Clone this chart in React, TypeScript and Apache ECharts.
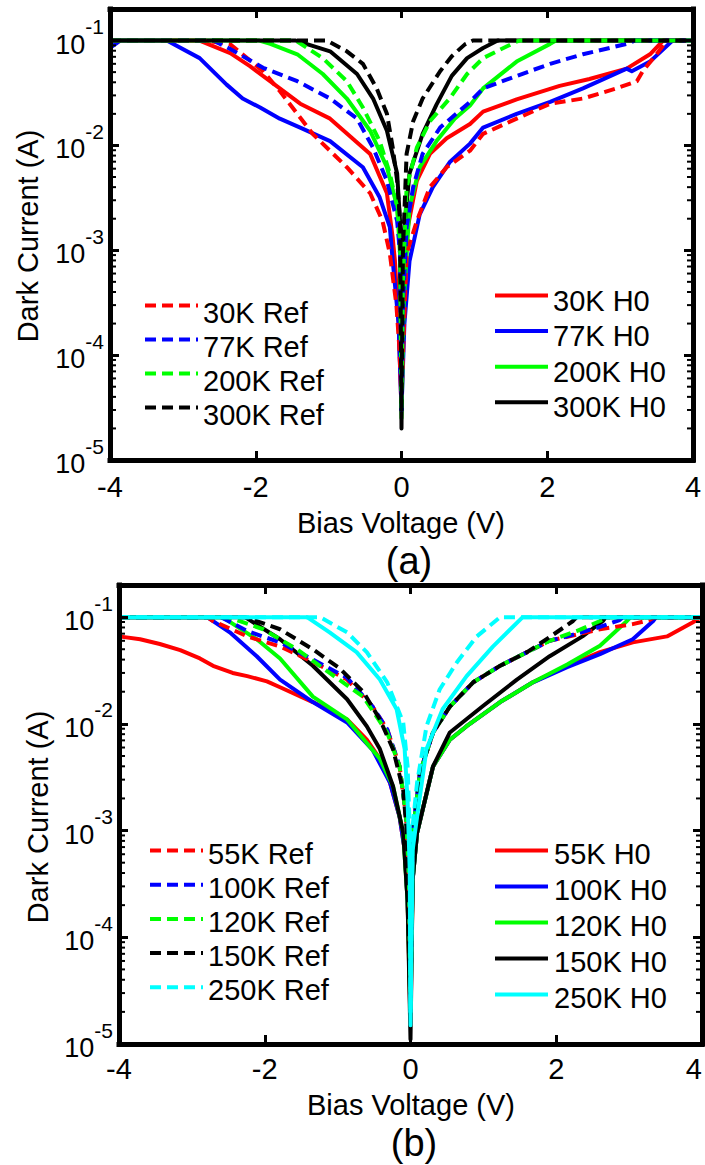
import React, { useEffect, useRef } from "react";
import * as echarts from "echarts";

// ---------- Panel (a) data: bias voltage (V) and dark current (A) ----------
const aV_30K_H0 = [-4, -2.77, -2.35, -2.08, -1.67, -1.39, -0.98, -0.43, -0.2, -0.12, -0.09, -0.04, 0, 0.03, 0.07, 0.21, 0.39, 0.62, 0.94, 1.12, 1.58, 2.17, 2.58, 3.09, 3.41, 3.59, 4];
const aI_30K_H0 = [0.1, 0.1, 0.076, 0.057, 0.035, 0.025, 0.018, 0.0083, 0.0035, 0.0013, 0.00079, 0.0002, 0.00003, 0.0003, 0.00145, 0.0046, 0.0083, 0.0117, 0.016, 0.021, 0.0275, 0.037, 0.043, 0.054, 0.074, 0.1, 0.1];

const aV_77K_H0 = [-4, -3.86, -3.22, -2.77, -2.4, -2.18, -1.94, -1.67, -1.39, -0.98, -0.53, -0.3, -0.16, -0.12, -0.04, 0, 0.04, 0.11, 0.25, 0.43, 0.66, 0.94, 1.12, 1.58, 2.04, 2.49, 3.09, 3.16, 3.41, 3.72, 4];
const aI_77K_H0 = [0.085, 0.1, 0.1, 0.068, 0.038, 0.028, 0.023, 0.018, 0.0148, 0.011, 0.0062, 0.0032, 0.00166, 0.00079, 0.0002, 0.00003, 0.0002, 0.00079, 0.0022, 0.004, 0.0069, 0.0104, 0.0148, 0.02, 0.026, 0.035, 0.054, 0.051, 0.063, 0.1, 0.1];

const aV_200K_H0 = [-4, -1.95, -1.8, -1.43, -1.08, -0.75, -0.43, -0.2, -0.06, -0.02, 0, 0.03, 0.11, 0.25, 0.48, 0.73, 0.94, 1.12, 1.58, 2.04, 2.12, 4];
const aI_200K_H0 = [0.1, 0.1, 0.093, 0.074, 0.048, 0.028, 0.0138, 0.0062, 0.0026, 0.00093, 0.000025, 0.0003, 0.0026, 0.0062, 0.011, 0.018, 0.024, 0.035, 0.063, 0.093, 0.1, 0.1];

const aV_300K_H0 = [-4, -1.45, -0.98, -0.61, -0.39, -0.2, -0.06, -0.02, 0, 0.01, 0.03, 0.11, 0.29, 0.48, 0.69, 0.9, 1.12, 1.32, 4];
const aI_300K_H0 = [0.1, 0.1, 0.079, 0.048, 0.028, 0.0138, 0.0054, 0.0019, 0.00002, 0.0002, 0.00145, 0.0054, 0.0129, 0.0245, 0.046, 0.068, 0.085, 0.1, 0.1];

const aV_30K_Ref = [-4, -2.7, -2.35, -1.9, -1.67, -1.22, -0.75, -0.43, -0.26, -0.16, -0.07, -0.03, 0, 0.03, 0.07, 0.21, 0.39, 0.62, 0.94, 1.12, 1.58, 2.04, 2.49, 2.95, 3.23, 3.31, 3.5, 3.64, 4];
const aI_30K_Ref = [0.1, 0.1, 0.092, 0.051, 0.033, 0.0129, 0.0062, 0.0035, 0.0019, 0.00093, 0.0003, 0.00012, 0.00004, 0.00015, 0.00093, 0.0019, 0.004, 0.0062, 0.0089, 0.0129, 0.018, 0.025, 0.028, 0.035, 0.041, 0.051, 0.074, 0.1, 0.1];

const aV_77K_Ref = [-4, -2.58, -2.35, -1.9, -1.43, -0.98, -0.61, -0.39, -0.2, -0.06, -0.02, 0, 0.02, 0.07, 0.16, 0.29, 0.53, 0.94, 1.12, 1.58, 2.04, 2.49, 3.09, 3.2, 4];
const aI_77K_Ref = [0.1, 0.1, 0.083, 0.055, 0.041, 0.028, 0.018, 0.0095, 0.0046, 0.0019, 0.00093, 0.00003, 0.0003, 0.00166, 0.004, 0.0083, 0.0148, 0.026, 0.035, 0.046, 0.06, 0.074, 0.093, 0.1, 0.1];

const aV_200K_Ref = [-4, -1.55, -1.43, -1.08, -0.75, -0.53, -0.3, -0.16, -0.06, -0.02, 0, 0.02, 0.07, 0.21, 0.39, 0.66, 0.9, 1.12, 1.58, 1.62, 4];
const aI_200K_Ref = [0.1, 0.1, 0.098, 0.068, 0.041, 0.023, 0.011, 0.0054, 0.0026, 0.00123, 0.00003, 0.0005, 0.004, 0.0095, 0.017, 0.028, 0.048, 0.068, 0.098, 0.1, 0.1];

const aV_300K_Ref = [-4, -1.02, -0.75, -0.53, -0.34, -0.2, -0.12, -0.06, -0.02, 0, 0.02, 0.07, 0.16, 0.29, 0.53, 0.69, 0.87, 0.98, 4];
const aI_300K_Ref = [0.1, 0.1, 0.079, 0.06, 0.035, 0.02, 0.0095, 0.0046, 0.0019, 0.00003, 0.001, 0.0083, 0.017, 0.028, 0.051, 0.071, 0.092, 0.1, 0.1];

// ---------- Panel (b) data ----------
const bV_55K_H0 = [-4, -3.71, -3.44, -3.16, -2.89, -2.71, -2.44, -2.24, -1.97, -1.79, -1.34, -0.87, -0.6, -0.42, -0.28, -0.15, -0.08, -0.04, 0, 0.03, 0.09, 0.31, 0.54, 0.77, 1.23, 1.68, 2.15, 2.6, 3.05, 3.52, 3.87, 3.97, 4];
const bI_55K_H0 = [0.066, 0.062, 0.056, 0.049, 0.041, 0.035, 0.03, 0.028, 0.025, 0.022, 0.016, 0.011, 0.0071, 0.0047, 0.0028, 0.00135, 0.00066, 0.00022, 0.000015, 0.00035, 0.00095, 0.004, 0.0071, 0.0095, 0.016, 0.0245, 0.035, 0.047, 0.058, 0.066, 0.089, 0.098, 0.1];

const bV_100K_H0 = [-4, -2.79, -2.48, -2.11, -1.79, -1.34, -0.87, -0.52, -0.28, -0.15, -0.08, -0.04, 0, 0.03, 0.09, 0.31, 0.54, 0.77, 1.23, 1.68, 2.15, 2.6, 3.05, 3.33, 3.37, 4];
const bI_100K_H0 = [0.1, 0.1, 0.072, 0.043, 0.026, 0.016, 0.0103, 0.0057, 0.0028, 0.00135, 0.00066, 0.00022, 0.00003, 0.00035, 0.00095, 0.004, 0.0071, 0.0095, 0.016, 0.0245, 0.034, 0.045, 0.062, 0.092, 0.1, 0.1];

const bV_120K_H0 = [-4, -2.58, -2.11, -1.79, -1.34, -0.87, -0.42, -0.24, -0.1, -0.04, 0, 0.03, 0.09, 0.31, 0.54, 0.77, 1.23, 1.68, 2.15, 2.6, 2.97, 3.02, 4];
const bI_120K_H0 = [0.1, 0.1, 0.062, 0.041, 0.018, 0.011, 0.0047, 0.0026, 0.00095, 0.00022, 0.00002, 0.00035, 0.00095, 0.004, 0.0071, 0.0095, 0.016, 0.0245, 0.036, 0.054, 0.092, 0.1, 0.1];

const bV_150K_H0 = [-4, -2.27, -1.79, -1.34, -0.87, -0.6, -0.42, -0.24, -0.1, -0.04, 0, 0.03, 0.09, 0.31, 0.54, 0.99, 1.46, 1.91, 2.36, 2.64, 2.68, 4];
const bI_150K_H0 = [0.1, 0.1, 0.062, 0.035, 0.017, 0.0095, 0.0058, 0.0026, 0.00095, 0.00022, 0.000011, 0.00035, 0.00095, 0.004, 0.0083, 0.0146, 0.026, 0.043, 0.066, 0.092, 0.1, 0.1];

const bV_250K_H0 = [-4, -1.42, -1.11, -0.74, -0.42, -0.19, -0.08, -0.04, -0.01, 0, 0.03, 0.09, 0.22, 0.44, 0.77, 1.13, 1.54, 4];
const bI_250K_H0 = [0.1, 0.1, 0.072, 0.047, 0.026, 0.0137, 0.0058, 0.0019, 0.00043, 0.000015, 0.00066, 0.00135, 0.0058, 0.0137, 0.028, 0.053, 0.1, 0.1];

const bV_55K_Ref = [-4, -2.79, -2.71, -2.24, -1.79, -1.34, -0.87, -0.52, -0.32, -0.15, -0.06, -0.02, 0, 0.03, 0.13, 0.31, 0.54, 0.86, 1.23, 1.6, 1.91, 2.6, 3.05, 3.28, 3.35, 4];
const bI_55K_Ref = [0.1, 0.1, 0.092, 0.066, 0.053, 0.038, 0.026, 0.0145, 0.0089, 0.004, 0.00135, 0.00035, 0.00003, 0.00095, 0.0035, 0.0083, 0.0145, 0.0245, 0.035, 0.047, 0.06, 0.077, 0.086, 0.094, 0.1, 0.1];

const bV_100K_Ref = [-4, -2.6, -2.24, -1.79, -1.34, -0.87, -0.52, -0.32, -0.15, -0.06, -0.02, 0, 0.03, 0.13, 0.31, 0.54, 0.86, 1.23, 1.6, 1.91, 2.15, 2.6, 2.87, 2.92, 4];
const bI_100K_Ref = [0.1, 0.1, 0.074, 0.058, 0.04, 0.027, 0.0145, 0.0089, 0.004, 0.00135, 0.00035, 0.00003, 0.00095, 0.0035, 0.0083, 0.0145, 0.0245, 0.035, 0.047, 0.06, 0.066, 0.081, 0.094, 0.1, 0.1];

const bV_120K_Ref = [-4, -2.5, -2.02, -1.56, -1.11, -0.65, -0.32, -0.15, -0.06, -0.02, 0, 0.03, 0.13, 0.31, 0.54, 0.86, 1.23, 1.6, 1.91, 2.28, 2.6, 2.68, 4];
const bI_120K_Ref = [0.1, 0.1, 0.077, 0.05, 0.03, 0.018, 0.0083, 0.004, 0.00135, 0.00035, 0.00002, 0.00095, 0.0035, 0.0083, 0.0145, 0.0245, 0.035, 0.047, 0.06, 0.074, 0.092, 0.1, 0.1];

const bV_150K_Ref = [-4, -2.27, -1.79, -1.34, -0.97, -0.65, -0.42, -0.24, -0.1, -0.05, 0, 0.03, 0.13, 0.31, 0.54, 0.86, 1.23, 1.6, 1.91, 2.23, 2.28, 4];
const bI_150K_Ref = [0.1, 0.1, 0.077, 0.05, 0.033, 0.02, 0.011, 0.0058, 0.0024, 0.00095, 0.00002, 0.00095, 0.0035, 0.0083, 0.0145, 0.0245, 0.035, 0.047, 0.065, 0.092, 0.1, 0.1];

const bV_250K_Ref = [-4, -1.24, -0.87, -0.6, -0.32, -0.1, -0.04, -0.01, 0, 0.02, 0.09, 0.22, 0.4, 0.64, 0.91, 1.23, 4];
const bI_250K_Ref = [0.1, 0.1, 0.072, 0.047, 0.0245, 0.0103, 0.004, 0.001, 0.00002, 0.00095, 0.0028, 0.0095, 0.021, 0.038, 0.066, 0.1, 0.1];

// ---------- Axis ticks and labels ----------
const X_TICKS = [-4, -2, 0, 2, 4];
const X_TICK_LABELS = ["-4", "-2", "0", "2", "4"];
const Y_EXPONENTS = [-5, -4, -3, -2, -1];
const Y_MIN = 1e-5;
const Y_MAX = 0.2;
const MINOR_TICKS = [
  2e-5, 3e-5, 4e-5, 5e-5, 6e-5, 7e-5, 8e-5, 9e-5,
  2e-4, 3e-4, 4e-4, 5e-4, 6e-4, 7e-4, 8e-4, 9e-4,
  2e-3, 3e-3, 4e-3, 5e-3, 6e-3, 7e-3, 8e-3, 9e-3,
  2e-2, 3e-2, 4e-2, 5e-2, 6e-2, 7e-2, 8e-2, 9e-2,
];

const LEGEND_A_REF = ["30K Ref", "77K Ref", "200K Ref", "300K Ref"];
const LEGEND_A_H0 = ["30K H0", "77K H0", "200K H0", "300K H0"];
const LEGEND_B_REF = ["55K Ref", "100K Ref", "120K Ref", "150K Ref", "250K Ref"];
const LEGEND_B_H0 = ["55K H0", "100K H0", "120K H0", "150K H0", "250K H0"];

const FONT = '"Liberation Sans", Arial, Helvetica, sans-serif';
const RED = "#ff0000";
const BLUE = "#0000ff";
const GREEN = "#00ff00";
const BLACK = "#000000";
const CYAN = "#00ffff";

const zip = (v: number[], i: number[]) => v.map((x, k) => [x, i[k]]);

function lineSeries(name: string, v: number[], i: number[], color: string, dashed: boolean, axis: number) {
  return {
    type: "line",
    name,
    xAxisIndex: axis,
    yAxisIndex: axis,
    data: zip(v, i),
    symbol: "none",
    showSymbol: false,
    color,
    lineStyle: { color, width: 4, type: dashed ? [11, 6] : "solid", cap: "butt", join: "round" },
    emphasis: { disabled: true },
    silent: true,
    z: 2,
  };
}

function minorTickSeries(axis: number) {
  return {
    type: "custom",
    xAxisIndex: axis,
    yAxisIndex: axis,
    data: MINOR_TICKS.map((v) => [0, v]),
    encode: { x: 0, y: 1 },
    clip: false,
    silent: true,
    z: 10,
    renderItem: (params: any, api: any) => {
      const y = api.value(1);
      const l = api.coord([-4, y]);
      const r = api.coord([4, y]);
      return {
        type: "group",
        children: [
          { type: "line", shape: { x1: l[0], y1: l[1], x2: l[0] + 6, y2: l[1] }, style: { stroke: "#000", lineWidth: 2 } },
          { type: "line", shape: { x1: r[0] - 6, y1: r[1], x2: r[0], y2: r[1] }, style: { stroke: "#000", lineWidth: 2 } },
        ],
      };
    },
  };
}

function axisLine() {
  return { show: true, onZero: false, lineStyle: { color: "#000000", width: 5, cap: "square" } };
}
function axisTick() {
  return { show: true, inside: true, length: 9, lineStyle: { color: "#000000", width: 3 } };
}

function xAxes(gridIndex: number, margin: number, alignMax: string) {
  const base = () => ({
    type: "value",
    gridIndex,
    min: X_TICKS[0],
    max: X_TICKS[X_TICKS.length - 1],
    interval: X_TICKS[1] - X_TICKS[0],
    axisLine: axisLine(),
    axisTick: axisTick(),
    splitLine: { show: false },
    z: 5,
  });
  return [
    {
      ...base(),
      position: "bottom",
      axisLabel: {
        show: true,
        margin,
        color: "#000",
        fontSize: 29,
        fontFamily: FONT,
        alignMaxLabel: alignMax,
        formatter: (v: number) => {
          const k = X_TICKS.indexOf(v);
          return k < 0 ? "" : X_TICK_LABELS[k];
        },
      },
    },
    { ...base(), position: "top", axisLabel: { show: false } },
  ];
}

const yLabelFormatter = (v: number) => {
  const e = Math.log10(v);
  const k = Y_EXPONENTS.findIndex((x) => Math.abs(x - e) < 1e-6);
  return k < 0 ? "" : `{b|10}{s|${Y_EXPONENTS[k]}}`;
};

function yAxes(gridIndex: number) {
  const base = () => ({
    type: "log",
    logBase: 10,
    gridIndex,
    min: Y_MIN,
    max: Y_MAX,
    splitNumber: 5,
    axisLine: axisLine(),
    axisTick: axisTick(),
    splitLine: { show: false },
    z: 5,
  });
  return [
    {
      ...base(),
      position: "left",
      axisLabel: {
        show: true,
        margin: 6,
        fontSize: 27,
        fontFamily: FONT,
        color: "#000",
        formatter: yLabelFormatter,
        rich: {
          b: { fontSize: 27, fontFamily: FONT, color: "#000", lineHeight: 27, padding: [8, 0, 0, 0] },
          s: { fontSize: 21, fontFamily: FONT, color: "#000", lineHeight: 21, padding: [0, 0, 28, 0] },
        },
      },
    },
    { ...base(), position: "right", axisLabel: { show: false } },
  ];
}

function legend(data: string[], left: number, top: number, padTop: number, gap: number, padLeft: number) {
  return {
    data,
    orient: "vertical",
    left,
    top,
    padding: 0,
    itemGap: gap,
    itemWidth: 53,
    itemHeight: 14,
    selectedMode: false,
    itemStyle: { opacity: 0 },
    lineStyle: { width: 4 },
    formatter: (name: string) => `{t|${name}}`,
    textStyle: {
      fontSize: 29,
      fontFamily: FONT,
      color: "#000",
      rich: {
        t: {
          fontSize: 29,
          fontFamily: FONT,
          color: "#000",
          lineHeight: 34 - padTop,
          padding: [padTop, 0, 0, padLeft],
        },
      },
    },
  };
}

function text(str: string, x: number, y: number, size: number, rotate = false) {
  return {
    type: "text",
    x,
    y,
    rotation: rotate ? Math.PI / 2 : 0,
    silent: true,
    style: { text: str, fontSize: size, fontFamily: FONT, fill: "#000", align: "center", verticalAlign: "middle" },
  };
}

export default function App() {
  const ref = useRef<HTMLDivElement>(null);
  useEffect(() => {
    if (!ref.current) return;
    const chart = echarts.init(ref.current, null, { renderer: "svg" });
    const option: any = {
      animation: false,
      backgroundColor: "#ffffff",
      grid: [
        { left: 110, top: 9, width: 583, height: 451, containLabel: false, outerBoundsMode: "none" },
        { left: 119, top: 585, width: 583, height: 459, containLabel: false, outerBoundsMode: "none" },
      ],
      xAxis: [...xAxes(0, 12, "center"), ...xAxes(1, 10, "right")],
      yAxis: [...yAxes(0), ...yAxes(1)],
      legend: [
        legend(LEGEND_A_REF, 143, 284, 14, -9, 0),
        legend(LEGEND_A_H0, 493, 276, 10, -3.4, 0),
        legend(LEGEND_B_REF, 148, 833, 6, -0.8, 0),
        legend(LEGEND_B_H0, 493, 833, 6, 1, 1),
      ],
      series: [
        lineSeries("30K H0", aV_30K_H0, aI_30K_H0, RED, false, 0),
        lineSeries("77K H0", aV_77K_H0, aI_77K_H0, BLUE, false, 0),
        lineSeries("200K H0", aV_200K_H0, aI_200K_H0, GREEN, false, 0),
        lineSeries("300K H0", aV_300K_H0, aI_300K_H0, BLACK, false, 0),
        lineSeries("30K Ref", aV_30K_Ref, aI_30K_Ref, RED, true, 0),
        lineSeries("77K Ref", aV_77K_Ref, aI_77K_Ref, BLUE, true, 0),
        lineSeries("200K Ref", aV_200K_Ref, aI_200K_Ref, GREEN, true, 0),
        lineSeries("300K Ref", aV_300K_Ref, aI_300K_Ref, BLACK, true, 0),
        minorTickSeries(0),
        lineSeries("55K H0", bV_55K_H0, bI_55K_H0, RED, false, 2),
        lineSeries("100K H0", bV_100K_H0, bI_100K_H0, BLUE, false, 2),
        lineSeries("120K H0", bV_120K_H0, bI_120K_H0, GREEN, false, 2),
        lineSeries("150K H0", bV_150K_H0, bI_150K_H0, BLACK, false, 2),
        lineSeries("55K Ref", bV_55K_Ref, bI_55K_Ref, RED, true, 2),
        lineSeries("100K Ref", bV_100K_Ref, bI_100K_Ref, BLUE, true, 2),
        lineSeries("120K Ref", bV_120K_Ref, bI_120K_Ref, GREEN, true, 2),
        lineSeries("150K Ref", bV_150K_Ref, bI_150K_Ref, BLACK, true, 2),
        lineSeries("250K H0", bV_250K_H0, bI_250K_H0, CYAN, false, 2),
        lineSeries("250K Ref", bV_250K_Ref, bI_250K_Ref, CYAN, true, 2),
        minorTickSeries(2),
      ],
      graphic: [
        text("Dark Current (A)", 28, 236, 29, true),
        text("Bias Voltage (V)", 401, 523, 29),
        text("(a)", 409, 561, 38),
        text("Dark Current (A)", 38, 817, 29, true),
        text("Bias Voltage (V)", 411, 1105, 29),
        text("(b)", 414, 1143, 38),
      ],
    };
    chart.setOption(option);
    return () => chart.dispose();
  }, []);
  return (
    <div
      ref={ref}
      style={{ position: "absolute", left: 0, top: 0, width: 705, height: 1165, background: "#fff" }}
    />
  );
}
